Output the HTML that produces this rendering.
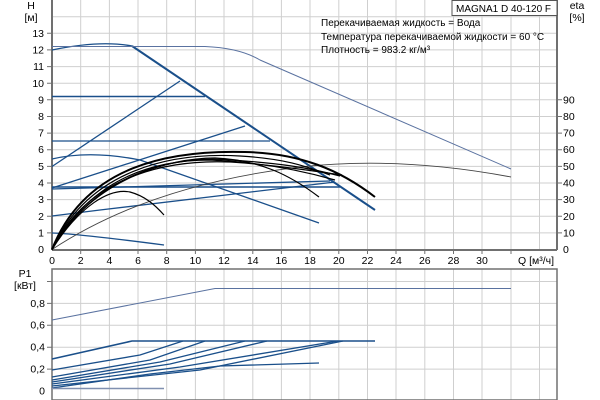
<!DOCTYPE html>
<html><head><meta charset="utf-8"><style>
html,body{margin:0;padding:0;background:#fff;width:600px;height:400px;overflow:hidden}
text{font-family:"Liberation Sans",sans-serif;font-size:10.5px;fill:#000}
</style></head><body>
<svg width="600" height="400" viewBox="0 0 600 400" xmlns="http://www.w3.org/2000/svg">
<g stroke="#cfcfcf" stroke-width="1" fill="none">
<path d="M80.7 0V249.5M109.4 0V249.5M138 0V249.5M166.7 0V249.5M195.4 0V249.5M224 0V249.5M252.8 0V249.5M281.4 0V249.5M310 0V249.5M338.8 0V249.5M367.5 0V249.5M396 0V249.5M424.8 0V249.5M453.5 0V249.5M482 0V249.5M511 0V249.5M539.5 0V249.5"/>
<path d="M52 232.9H557M52 216.2H557M52 199.6H557M52 183H557M52 166.4H557M52 149.7H557M52 133.1H557M52 116.5H557M52 99.8H557M52 83.2H557M52 66.6H557M52 49.9H557M52 33.3H557M52 16.7H557"/>
<path d="M80.7 269V400M109.4 269V400M138 269V400M166.7 269V400M195.4 269V400M224 269V400M252.8 269V400M281.4 269V400M310 269V400M338.8 269V400M367.5 269V400M396 269V400M424.8 269V400M453.5 269V400M482 269V400M511 269V400M539.5 269V400"/>
<path d="M52 369.1H557M52 347.2H557M52 325.3H557M52 303.4H557M52 281.5H557"/>
</g>
<g stroke="#707070" fill="none">
<path d="M52 0V250M52 250H557M557 0V250" stroke-width="2"/>
<rect x="52" y="269" width="505" height="131" stroke-width="1.5"/>
<path d="M47 232.9H52M47 216.2H52M47 199.6H52M47 183H52M47 166.4H52M47 149.7H52M47 133.1H52M47 116.5H52M47 99.8H52M47 83.2H52M47 66.6H52M47 49.9H52M47 33.3H52"/>
<path d="M557 232.9H562M557 216.2H562M557 199.6H562M557 183H562M557 166.4H562M557 149.7H562M557 133.1H562M557 116.5H562M557 99.8H562"/>
<path d="M80.7 250V254M109.4 250V254M138 250V254M166.7 250V254M195.4 250V254M224 250V254M252.8 250V254M281.4 250V254M310 250V254M338.8 250V254M367.5 250V254M396 250V254M424.8 250V254M453.5 250V254M482 250V254M511 250V254"/>
<path d="M47 369.1H52M47 347.2H52M47 325.3H52M47 303.4H52M47 281.5H52"/>
</g>
<g text-anchor="end">
<text x="44" y="253">0</text><text x="44" y="236.5">1</text><text x="44" y="220">2</text><text x="44" y="203">3</text><text x="44" y="186.5">4</text><text x="44" y="170">5</text><text x="44" y="153">6</text><text x="44" y="136.5">7</text><text x="44" y="120">8</text><text x="44" y="103.5">9</text><text x="44" y="87">10</text><text x="44" y="70">11</text><text x="44" y="53.5">12</text><text x="44" y="37">13</text>
<text x="45" y="394.5">0</text><text x="45" y="372.5">0,2</text><text x="45" y="350.5">0,4</text><text x="45" y="328.5">0,6</text><text x="45" y="307">0,8</text>
</g>
<g text-anchor="start">
<text x="563" y="253">0</text><text x="563" y="236.5">10</text><text x="563" y="220">20</text><text x="563" y="203">30</text><text x="563" y="186.5">40</text><text x="563" y="170">50</text><text x="563" y="153">60</text><text x="563" y="136.5">70</text><text x="563" y="120">80</text><text x="563" y="103.5">90</text>
</g>
<g text-anchor="middle">
<text x="52" y="264">0</text><text x="80.7" y="264">2</text><text x="109.4" y="264">4</text><text x="138" y="264">6</text><text x="166.7" y="264">8</text><text x="195.4" y="264">10</text><text x="224" y="264">12</text><text x="252.8" y="264">14</text><text x="281.4" y="264">16</text><text x="310" y="264">18</text><text x="338.8" y="264">20</text><text x="367.5" y="264">22</text><text x="396" y="264">24</text><text x="424.8" y="264">26</text><text x="453.5" y="264">28</text><text x="482" y="264">30</text>
<text x="31" y="9">H</text><text x="31" y="21">[м]</text>
<text x="577" y="9">eta</text><text x="577" y="21">[%]</text>
<text x="25" y="277">P1</text><text x="25" y="289">[кВт]</text>
</g>
<text x="518" y="264">Q [м³/ч]</text>
<rect x="452" y="0.5" width="105" height="15" fill="#fff" stroke="#555"/>
<text x="456" y="12" style="font-size:10px">MAGNA1 D 40-120 F</text>
<text x="321" y="26" style="font-size:10px">Перекачиваемая жидкость = Вода</text>
<text x="321" y="40" style="font-size:10px">Температура перекачиваемой жидкости = 60 °C</text>
<text x="321" y="53" style="font-size:10px">Плотность = 983.2 кг/м³</text>
<g fill="none" stroke="#1a4f8a" stroke-width="1.3">
<path d="M52 50 Q100 40 132 46"/>
<path d="M132 46 L375 210" stroke-width="2"/>
<path d="M52 166.5 L180 81"/>
<path d="M52 96.5 H205" stroke-width="1.5"/>
<path d="M52 141 H270"/>
<path d="M52 188 L245 126"/>
<path d="M52 159 Q90 150 140 160 L319 223"/>
<path d="M52 187 H340" stroke-width="1.5"/>
<path d="M52 189 L330 181"/>
<path d="M52 216 L100 210 L335 182"/>
<path d="M52 233 Q80 234 164 245"/>
</g>
<path d="M52 46.5 H205 Q240 48 260 60 L511 169" fill="none" stroke="#5a72a0" stroke-width="1"/>
<path d="M52 249.5 Q150 185 300 167 Q400 156 511 177" fill="none" stroke="#444" stroke-width="0.9"/>
<g fill="none" stroke="#000" stroke-width="1.2">
<path d="M52 249.5 C85 165 170 150 245 152 C300 153 340 170 375 197" stroke-width="2"/>
<path d="M52 249.5 C88 170 170 152 240 156 C290 159 310 168 330 175"/>
<path d="M52 249.5 C90 172 175 157 245 163 C290 167 320 172 342 175"/>
<path d="M52 249.5 C92 178 170 158 215 158 C260 160 290 175 319 197"/>
<path d="M52 249.5 C95 175 170 155 230 160 C280 163 310 168 340 176"/>
<path d="M52 249.5 C80 205 110 188 130 192 C145 196 155 205 164 215"/>
<path d="M52 249.5 C90 180 150 160 210 160 C260 162 300 170 335 180"/>
</g>
<g fill="none" stroke="#1a4f8a" stroke-width="1.3">
<path d="M52 320 L215 288.5 H511" stroke="#5a72a0" stroke-width="1"/>
<path d="M52 359 L132 341 H375" stroke-width="1.6"/>
<path d="M52 370 L140 355 L183 341"/>
<path d="M52 377 L150 360 L205 341"/>
<path d="M52 380 L160 362 L245 341"/>
<path d="M52 382 L170 364 L267 341"/>
<path d="M52 384 L180 367 L338 341"/>
<path d="M52 386 L200 370 L343 341"/>
<path d="M52 388 L150 374 L220 366 L319 363"/>
<path d="M52 388.5 H164" stroke="#8090b0" stroke-width="1.5"/>
</g>
</svg>
</body></html>
